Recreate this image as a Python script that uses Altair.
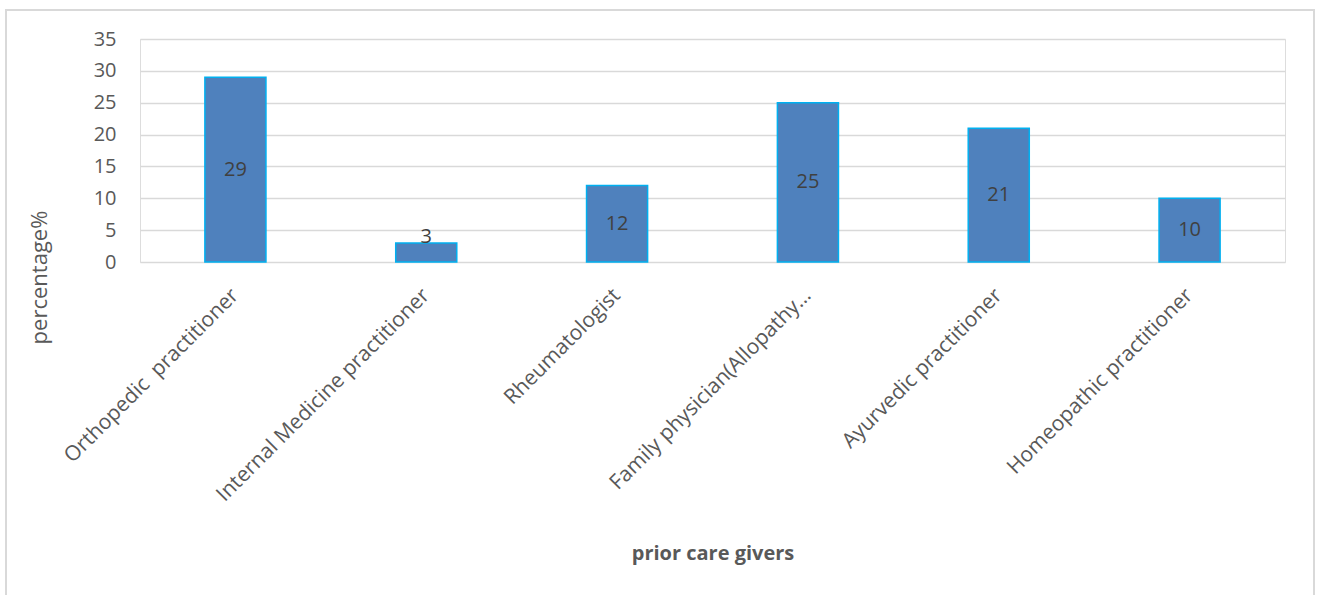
import altair as alt
import pandas as pd

categories = [
    "Orthopedic\u00a0 practitioner",
    "Internal Medicine practitioner",
    "Rheumatologist",
    "Family physician(Allopathy…",
    "Ayurvedic practitioner",
    "Homeopathic practitioner",
]
values = [29, 3, 12, 25, 21, 10]
y_ticks = [0, 5, 10, 15, 20, 25, 30, 35]

df = pd.DataFrame({"cat": categories, "val": values})

FONT = "Open Sans"
x_axis = alt.Axis(
    title="prior care givers",
    titleFont=FONT,
    titleFontSize=20,
    titleFontWeight="bold",
    titleColor="#595959",
    titleY=291,
    titleBaseline="middle",
    labelAngle=-45,
    labelAlign="right",
    labelBaseline="middle",
    labelFont=FONT,
    labelFontSize=21,
    labelColor="#595959",
    labelPadding=30,
    labelLimit=400,
    ticks=False,
    domain=False,
)
x_scale = alt.Scale(paddingInner=0.68, paddingOuter=0.34)

y_axis = alt.Axis(
    values=y_ticks,
    labelOverlap=False,
    title="percentage%",
    titleFont=FONT,
    titleFontSize=22,
    titleFontWeight="normal",
    titleColor="#595959",
    titleAngle=-90,
    titleX=-101,
    titleY=238,
    titleAlign="center",
    titleBaseline="middle",
    labelFont=FONT,
    labelFontSize=20,
    labelColor="#595959",
    labelPadding=24,
    ticks=False,
    domain=False,
    grid=True,
    gridColor="#d9d9d9",
    gridWidth=1.5,
)
y_scale = alt.Scale(domain=[0, 35], nice=False)

bars = alt.Chart(df).mark_bar(
    color="#4f81bd", stroke="#00b0f0", strokeWidth=1.5
).encode(
    x=alt.X("cat:N", sort=categories, scale=x_scale, axis=x_axis),
    y=alt.Y("val:Q", scale=y_scale, axis=y_axis),
)

labels = alt.Chart(df).transform_calculate(
    ypos="max(datum.val / 2, 4)"
).mark_text(
    font=FONT, fontSize=20, color="#404040", baseline="middle", align="center"
).encode(
    x=alt.X("cat:N", sort=categories, scale=x_scale, axis=x_axis),
    y=alt.Y("ypos:Q", scale=y_scale, axis=y_axis),
    text=alt.Text("val:Q"),
)

border = alt.Chart(df).mark_rect(
    fill=None, stroke="#d9d9d9", strokeWidth=2
).encode(
    x=alt.value(-134), x2=alt.value(1174), y=alt.value(-29), y2=alt.value(620)
)

chart = alt.layer(border, bars, labels).properties(
    width=1145,
    height=223,
    autosize=alt.AutoSizeParams(type="none"),
    padding={"left": 140, "top": 39, "right": 37, "bottom": 333},
).configure_view(strokeWidth=0).configure(background="white")

chart.save("out.html", embed_options={"renderer": "svg", "actions": False})
